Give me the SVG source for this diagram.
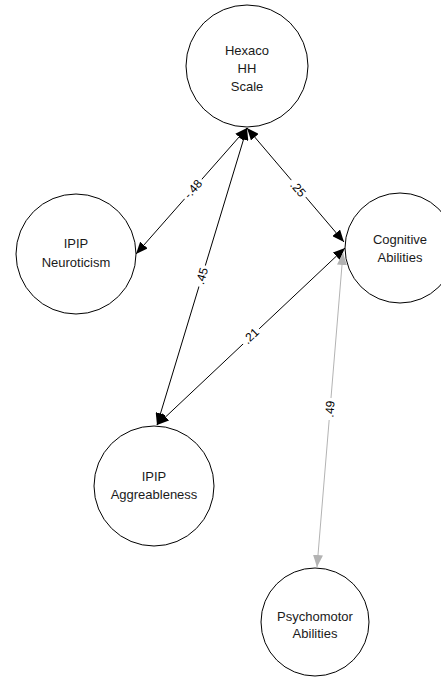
<svg xmlns="http://www.w3.org/2000/svg" width="441" height="678" viewBox="0 0 441 678">
  <style>
    .node circle { fill: #ffffff; stroke: #000000; stroke-width: 1; }
    .node text { font-family: "Liberation Sans", Arial, sans-serif; font-size: 13px; fill: #1a1a1a; text-anchor: middle; }
    .edge { fill: none; stroke: #000000; stroke-width: 1; }
    .edge.grey { stroke: #b3b3b3; }
    .lbl rect { fill: #ffffff; }
    .lbl text { font-family: "Liberation Sans", Arial, sans-serif; font-size: 12px; fill: #000000; text-anchor: middle; }
  </style>
  <defs>
    <marker id="arrow" viewBox="0 0 12 10" refX="12" refY="5" markerWidth="12" markerHeight="10" markerUnits="userSpaceOnUse" orient="auto-start-reverse">
      <path d="M0,0 L12,5 L0,10 z" fill="#000000"/>
    </marker>
    <marker id="arrow-grey" viewBox="0 0 12 10" refX="12" refY="5" markerWidth="12" markerHeight="10" markerUnits="userSpaceOnUse" orient="auto-start-reverse">
      <path d="M0,0 L12,5 L0,10 z" fill="#b3b3b3"/>
    </marker>
  </defs>

  <rect width="441" height="678" fill="#ffffff"/>

  <!-- two-headed correlation paths -->
  <g id="connectors">
    <line class="edge" x1="247" y1="128" x2="136" y2="254" marker-start="url(#arrow)" marker-end="url(#arrow)"/>
    <line class="edge" x1="247" y1="128" x2="157" y2="425" marker-start="url(#arrow)" marker-end="url(#arrow)"/>
    <line class="edge" x1="247" y1="128" x2="344" y2="242" marker-start="url(#arrow)" marker-end="url(#arrow)"/>
    <line class="edge" x1="345" y1="248" x2="157" y2="425" marker-start="url(#arrow)" marker-end="url(#arrow)"/>
    <line class="edge grey" x1="343" y1="253" x2="317" y2="567" marker-start="url(#arrow-grey)" marker-end="url(#arrow-grey)"/>

    <g class="lbl" transform="translate(193,189) rotate(-48.6)">
      <rect x="-13" y="-7" width="26" height="14"/>
      <text x="0" y="4">-.48</text>
    </g>
    <g class="lbl" transform="translate(202,276) rotate(-73.1)">
      <rect x="-11" y="-7" width="22" height="14"/>
      <text x="0" y="4">.45</text>
    </g>
    <g class="lbl" transform="translate(298,189) rotate(49.9)">
      <rect x="-11" y="-7" width="22" height="14"/>
      <text x="0" y="4">.25</text>
    </g>
    <g class="lbl" transform="translate(251,336) rotate(-43.3)">
      <rect x="-11" y="-7" width="22" height="14"/>
      <text x="0" y="4">.21</text>
    </g>
    <g class="lbl" transform="translate(330,409) rotate(-85.3)">
      <rect x="-11" y="-7" width="22" height="14"/>
      <text x="0" y="4">.49</text>
    </g>
  </g>

  <g id="hexaco" class="node">
    <circle cx="247" cy="66" r="61"/>
    <text x="247" y="55">Hexaco</text>
    <text x="247" y="72.5">HH</text>
    <text x="247" y="90.5">Scale</text>
  </g>

  <g id="neuroticism" class="node">
    <circle cx="76" cy="254" r="60"/>
    <text x="76" y="248">IPIP</text>
    <text x="76" y="266.5">Neuroticism</text>
  </g>

  <g id="cognitive" class="node">
    <circle cx="400" cy="248" r="55"/>
    <text x="400" y="244">Cognitive</text>
    <text x="400" y="262">Abilities</text>
  </g>

  <g id="aggreableness" class="node">
    <circle cx="154" cy="486" r="60"/>
    <text x="154" y="481">IPIP</text>
    <text x="154" y="499">Aggreableness</text>
  </g>

  <g id="psychomotor" class="node">
    <circle cx="315" cy="622" r="54"/>
    <text x="315" y="621">Psychomotor</text>
    <text x="315" y="638">Abilities</text>
  </g>
</svg>
